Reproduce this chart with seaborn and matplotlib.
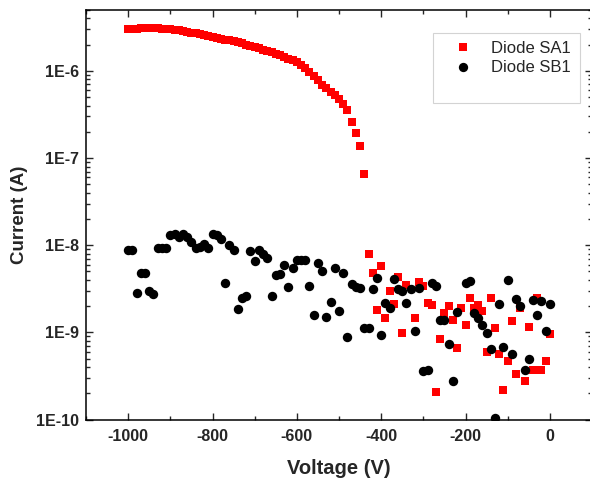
import numpy as np
import pandas as pd
import matplotlib
matplotlib.use("Agg")
import matplotlib.pyplot as plt
import matplotlib.ticker as mticker
from matplotlib.lines import Line2D
import seaborn as sns

# ---- data: Diode SA1 (red squares) ----
sa1_voltage = [-1000, -990, -980, -970, -960, -950, -940, -930, -920, -910,
               -900, -890, -880, -870, -860, -850, -840, -830, -820, -810,
               -800, -790, -780, -770, -760, -750, -740, -730, -720, -710,
               -700, -690, -680, -670, -660, -650, -640, -630, -620, -610,
               -600, -590, -580, -570, -560, -550, -540, -530, -520, -510,
               -500, -490, -480, -470, -460, -450, -440,
               -430, -420, -410, -400, -390, -380, -370, -360, -350, -340,
               -320, -310, -300, -290, -280, -270, -260, -250, -240, -230,
               -220, -210, -200, -190, -180, -170, -160, -150, -140, -130,
               -120, -110, -100, -90, -80, -70, -60, -50, -40, -30,
               -20, -10, 0]
sa1_current = [3.02e-6, 3.02e-6, 3.05e-6, 3.09e-6, 3.09e-6, 3.09e-6, 3.09e-6, 3.09e-6, 3.05e-6, 3.02e-6,
               2.99e-6, 2.95e-6, 2.92e-6, 2.85e-6, 2.82e-6, 2.75e-6, 2.69e-6, 2.63e-6, 2.57e-6, 2.51e-6,
               2.45e-6, 2.40e-6, 2.34e-6, 2.29e-6, 2.24e-6, 2.19e-6, 2.14e-6, 2.07e-6, 2.00e-6, 1.95e-6,
               1.88e-6, 1.82e-6, 1.76e-6, 1.70e-6, 1.64e-6, 1.58e-6, 1.51e-6, 1.45e-6, 1.38e-6, 1.32e-6,
               1.26e-6, 1.17e-6, 1.07e-6, 9.8e-7, 8.7e-7, 7.8e-7, 6.9e-7, 6.3e-7, 5.75e-7, 5.25e-7,
               4.8e-7, 4.2e-7, 3.55e-7, 2.6e-7, 1.95e-7, 1.38e-7, 6.5e-8,
               8.0e-9, 4.8e-9, 1.8e-9, 5.8e-9, 1.46e-9, 3.0e-9, 2.12e-9, 4.3e-9, 9.8e-10, 3.5e-9,
               1.46e-9, 3.8e-9, 3.4e-9, 2.17e-9, 2.06e-9, 2.05e-10, 8.4e-10, 1.67e-9, 2.0e-9, 1.38e-9,
               6.6e-10, 1.9e-9, 1.21e-9, 2.5e-9, 1.9e-9, 2.06e-9, 1.76e-9, 5.9e-10, 2.5e-9, 1.12e-9,
               5.6e-10, 2.16e-10, 4.7e-10, 1.35e-9, 3.3e-10, 1.9e-9, 2.8e-10, 1.15e-9, 3.7e-10, 2.5e-9,
               3.7e-10, 4.7e-10, 9.6e-10]

# ---- data: Diode SB1 (black circles) ----
sb1_voltage = [-1000, -990, -980, -970, -960, -950, -940, -930, -920, -910,
               -900, -890, -880, -870, -860, -850, -840, -830, -820, -810,
               -800, -790, -780, -770, -760, -750, -740, -730, -720, -710,
               -700, -690, -680, -670, -660, -650, -640, -630, -620, -610,
               -600, -590, -580, -570, -560, -550, -540, -530, -520, -510,
               -500, -490, -480, -470, -460, -450, -440, -430, -420, -410,
               -400, -390, -380, -370, -360, -350, -340, -330, -320, -310,
               -300, -290, -280, -270, -260, -250, -240, -230, -220, -200,
               -190, -180, -170, -160, -150, -140, -130, -120, -110, -100,
               -90, -80, -70, -60, -50, -40, -30, -20, -10, 0]
sb1_current = [8.9e-9, 8.9e-9, 2.86e-9, 4.8e-9, 4.8e-9, 3.0e-9, 2.74e-9, 9.3e-9, 9.3e-9, 9.3e-9,
               1.32e-8, 1.35e-8, 1.23e-8, 1.35e-8, 1.25e-8, 1.1e-8, 9.4e-9, 9.6e-9, 1.03e-8, 9.4e-9,
               1.35e-8, 1.32e-8, 1.18e-8, 3.66e-9, 1.01e-8, 8.8e-9, 1.84e-9, 2.5e-9, 2.6e-9, 8.5e-9,
               6.6e-9, 8.9e-9, 7.9e-9, 7.2e-9, 2.6e-9, 4.6e-9, 4.7e-9, 6.0e-9, 3.3e-9, 5.5e-9,
               6.7e-9, 6.7e-9, 6.7e-9, 3.4e-9, 1.57e-9, 6.2e-9, 5.0e-9, 1.5e-9, 2.25e-9, 5.5e-9,
               1.76e-9, 4.85e-9, 8.8e-10, 3.57e-9, 3.35e-9, 3.27e-9, 1.13e-9, 1.13e-9, 3.13e-9, 4.2e-9,
               9.3e-10, 2.19e-9, 1.89e-9, 4.1e-9, 3.13e-9, 3.0e-9, 2.19e-9, 3.13e-9, 1.05e-9, 3.27e-9,
               3.57e-10, 3.7e-10, 3.7e-9, 3.4e-9, 1.37e-9, 1.37e-9, 7.3e-10, 2.74e-10, 1.72e-9, 3.7e-9,
               3.9e-9, 1.68e-9, 1.47e-9, 1.21e-9, 9.9e-10, 6.5e-10, 1.03e-10, 2.13e-9, 6.8e-10, 3.97e-9,
               5.7e-10, 2.4e-9, 2.0e-9, 3.74e-10, 5.0e-10, 2.33e-9, 1.57e-9, 2.3e-9, 1.03e-9, 2.13e-9]

series_labels = ["Diode SA1", "Diode SB1"]
x_ticks = [-1000, -800, -600, -400, -200, 0]
y_ticks = [1e-10, 1e-9, 1e-8, 1e-7, 1e-6]
y_ticklabels = ["1E-10", "1E-9", "1E-8", "1E-7", "1E-6"]

sa1 = pd.DataFrame({"Voltage": sa1_voltage, "Current": sa1_current})
sb1 = pd.DataFrame({"Voltage": sb1_voltage, "Current": sb1_current})

sns.set_style("ticks")
plt.rcParams["font.family"] = ["Liberation Sans", "DejaVu Sans"]

fig = plt.figure(figsize=(5.9, 4.8), dpi=100)
ax = fig.add_axes([86 / 590, 60.5 / 480, (592 - 86) / 590, (470 - 60.5) / 480])

sns.scatterplot(data=sa1, x="Voltage", y="Current", ax=ax, marker="s",
                color="#ff0000", s=32, linewidth=0, label=series_labels[0], legend=False)
sns.scatterplot(data=sb1, x="Voltage", y="Current", ax=ax, marker="o",
                color="black", s=46, linewidth=0, label=series_labels[1], legend=False)

ax.set_yscale("log")
ax.set_xlim(-1100, 100)
ax.set_ylim(1e-10, 5e-6)

ax.set_xticks(x_ticks)
ax.set_xticklabels([str(t) for t in x_ticks])
ax.xaxis.set_minor_locator(mticker.MultipleLocator(100))
ax.yaxis.set_major_locator(mticker.FixedLocator(y_ticks))
ax.yaxis.set_major_formatter(mticker.FixedFormatter(y_ticklabels))
ax.yaxis.set_minor_locator(mticker.LogLocator(base=10, subs=np.arange(2, 10), numticks=20))
ax.yaxis.set_minor_formatter(mticker.NullFormatter())

ax.tick_params(which="both", direction="in", top=True, right=True, width=1.0)
ax.tick_params(which="major", length=5, labelsize=11.5)
ax.tick_params(axis="x", which="major", pad=7)
ax.tick_params(axis="y", which="major", pad=5)
ax.tick_params(which="minor", length=3)
for lab in ax.get_xticklabels() + ax.get_yticklabels():
    lab.set_fontweight("bold")
for sp in ax.spines.values():
    sp.set_linewidth(1.1)
    sp.set_color("black")

ax.set_xlabel("Voltage (V)", fontsize=14.5, fontweight="bold", labelpad=11)
ax.set_ylabel("Current (A)", fontsize=13.5, fontweight="bold", labelpad=6)

handles = [
    Line2D([], [], marker="s", color="#ff0000", linestyle="none", markersize=5.6, markeredgewidth=0),
    Line2D([], [], marker="o", color="black", linestyle="none", markersize=6.7, markeredgewidth=0),
    Line2D([], [], linestyle="none"),
]
leg = ax.legend(handles, series_labels + [" "], loc="upper left",
                bbox_to_anchor=(0.686, 0.944), fontsize=12, frameon=True, fancybox=False,
                handlelength=2.6, handletextpad=0.4, borderpad=0.5, labelspacing=0.25,
                borderaxespad=0)
leg.get_frame().set_edgecolor("#c8c8c8")
leg.get_frame().set_linewidth(0.8)

fig.savefig("out.png", dpi=100)
